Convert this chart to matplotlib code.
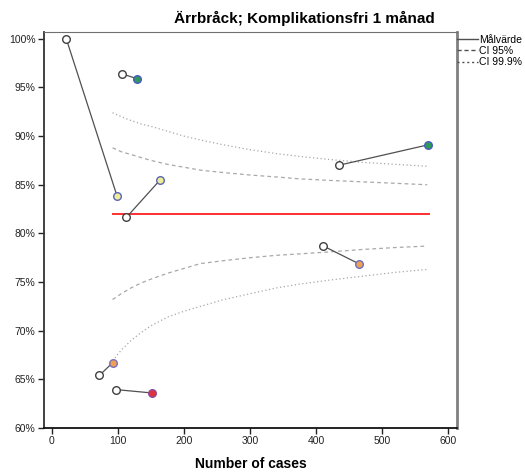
import matplotlib.pyplot as plt
from matplotlib.lines import Line2D

plt.rcParams["font.family"] = ["Liberation Sans", "DejaVu Sans"]

# ---------- Data ----------
# each pair: previous period (open) -> current period (coloured)
prev_n = [22, 106, 113, 434, 411, 72, 97]
prev_pct = [100.0, 96.4, 81.65, 87.0, 78.7, 65.4, 63.95]
curr_n = [99, 129, 164, 569, 464, 92, 152]
curr_pct = [83.8, 95.9, 85.5, 89.1, 76.9, 66.7, 63.6]
curr_face = ["#eeee99", "#2e9a5a", "#eeee99", "#2e9a5a", "#f0a050", "#f0a050", "#e0303a"]
curr_edge = ["#5a64b4", "#4a5ac0", "#5a64b4", "#4a5ac0", "#6a70c0", "#7a70c0", "#8a4aa0"]

target = 82.0
target_n = [92, 570]

ci_n = [92, 105, 120, 135, 150, 175, 200, 225, 260, 300, 340, 376, 420, 470, 520, 568]
ci95_hi = [88.8, 88.4, 88.1, 87.8, 87.5, 87.1, 86.8, 86.5, 86.25, 86.0, 85.8, 85.6, 85.45, 85.3, 85.15, 85.0]
ci95_lo = [73.2, 73.8, 74.4, 74.9, 75.3, 75.9, 76.4, 76.9, 77.2, 77.5, 77.75, 77.9, 78.1, 78.35, 78.55, 78.7]
ci999_hi = [92.4, 92.0, 91.6, 91.25, 91.0, 90.5, 90.0, 89.6, 89.1, 88.6, 88.2, 87.9, 87.6, 87.3, 87.1, 86.9]
ci999_lo = [66.9, 68.0, 69.0, 69.8, 70.5, 71.4, 72.0, 72.5, 73.2, 73.8, 74.4, 74.8, 75.2, 75.6, 76.0, 76.3]

# ---------- Plot ----------
fig = plt.figure(figsize=(5.25, 4.76), dpi=100)
ax = fig.add_axes([0.0838, 0.1008, 0.7867, 0.832])

grey = "#a8a8a8"
ax.plot(ci_n, ci95_hi, color=grey, lw=0.9, ls=(0, (3, 2.5)))
ax.plot(ci_n, ci95_lo, color=grey, lw=0.9, ls=(0, (3, 2.5)))
ax.plot(ci_n, ci999_hi, color=grey, lw=0.9, ls=(0, (1, 2)))
ax.plot(ci_n, ci999_lo, color=grey, lw=0.9, ls=(0, (1, 2)))

ax.plot(target_n, [target, target], color="#ff3030", lw=1.4)

for i in range(len(prev_n)):
    ax.plot([prev_n[i], curr_n[i]], [prev_pct[i], curr_pct[i]], color="#505050", lw=0.9)
    ax.scatter(prev_n[i], prev_pct[i], s=30, facecolor="white", edgecolor="#404040", lw=1.0, zorder=3)
    ax.scatter(curr_n[i], curr_pct[i], s=30, facecolor=curr_face[i], edgecolor=curr_edge[i], lw=1.0, zorder=3)

ax.set_xlim(-11.7, 613)
ax.set_ylim(60, 100.7)
ax.set_xticks([0, 100, 200, 300, 400, 500, 600])
ax.set_yticks([60, 65, 70, 75, 80, 85, 90, 95, 100])
ax.set_yticklabels([f"{v}%" for v in [60, 65, 70, 75, 80, 85, 90, 95, 100]])
ax.tick_params(labelsize=7.5, length=4, width=1, colors="#222222", pad=2)

ax.spines["left"].set_color("#333333")
ax.spines["bottom"].set_color("#111111")
ax.spines["left"].set_linewidth(1.3)
ax.spines["bottom"].set_linewidth(1.3)
ax.spines["top"].set_color("#707070")
ax.spines["right"].set_color("#808080")
ax.spines["right"].set_linewidth(2)

ax.set_xlabel("Number of cases", fontsize=10, fontweight="bold", labelpad=8)
ax.text(0.947, 1.015, "Ärrbråck; Komplikationsfri 1 månad", transform=ax.transAxes,
        ha="right", va="bottom", fontsize=11, fontweight="bold")

handles = [
    Line2D([], [], color="#505050", lw=1, ls="-"),
    Line2D([], [], color="#505050", lw=1, ls=(0, (3, 2))),
    Line2D([], [], color="#505050", lw=1, ls=(0, (1.5, 2))),
]
ax.legend(handles, ["Målvärde", "CI 95%", "CI 99.9%"], loc="upper left",
          bbox_to_anchor=(1.0, 0.993), frameon=False, fontsize=7.5,
          handlelength=2.0, handletextpad=0.15, borderaxespad=0, borderpad=0,
          labelspacing=0.12)

fig.savefig("out.png", dpi=100)
